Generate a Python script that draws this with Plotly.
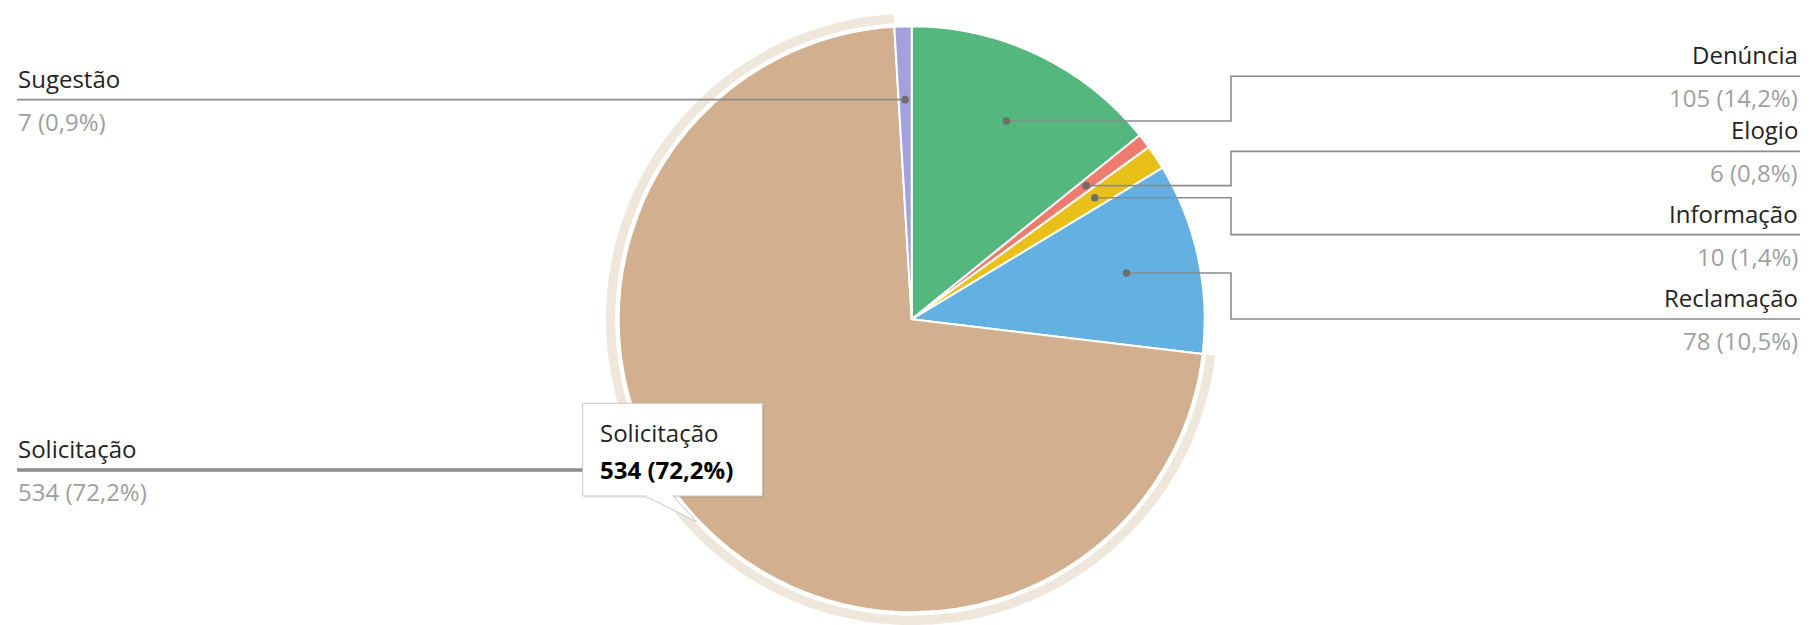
import math
import plotly.graph_objects as go

# ---------------- data ----------------
categories = ["Denúncia", "Elogio", "Informação", "Reclamação", "Solicitação", "Sugestão"]
counts = [105, 6, 10, 78, 534, 7]
colors = ["#54B77E", "#ED7B6E", "#E9C01A", "#63B0E2", "#D2B08F", "#A3A0DC"]
highlighted = "Solicitação"

# ---------------- layout constants (pixels) ----------------
W, H = 1812, 625
CX, CY = 911.7, 319.3          # pie centre
R = 293.0                      # pie radius
R_GAP = 296.5                  # white gap ring radius
R_HALO = 305.7                 # highlight halo radius
DOT_FRAC = 0.75                # leader dot position (fraction of radius)
ELBOW_X = 1231.0
RIGHT_X = 1800.0
LEFT_X = 17.0
right_label_line_y = {"Denúncia": 76.3, "Elogio": 151.4, "Informação": 234.6, "Reclamação": 319.0}
FONT = "Segoe UI, Open Sans, sans-serif"
FS = 24
NAME_COLOR = "#252423"
VALUE_COLOR = "#A0A0A0"
LINE_COLOR = "#8C8C8C"


def px(x):
    return x / W


def py(y):
    return 1 - y / H


def domain_for(r):
    return dict(x=[px(CX - r), px(CX + r)], y=[py(CY + r), py(CY - r)])


total = sum(counts)
pcts = [c / total * 100 for c in counts]


def fmt_pct(p):
    return f"{p:.1f}".replace(".", ",") + "%"


fig = go.Figure()

# halo (only highlighted slice visible)
fig.add_trace(go.Pie(
    labels=categories, values=counts, sort=False, direction="clockwise", rotation=0,
    marker=dict(colors=["#EFE6DC" if c == highlighted else "rgba(0,0,0,0)" for c in categories],
                line=dict(width=0)),
    textinfo="none", hoverinfo="skip", showlegend=False, domain=domain_for(R_HALO),
))
# white gap ring
fig.add_trace(go.Pie(
    labels=categories, values=counts, sort=False, direction="clockwise", rotation=0,
    marker=dict(colors=["#FFFFFF" if c == highlighted else "rgba(0,0,0,0)" for c in categories],
                line=dict(width=0)),
    textinfo="none", hoverinfo="skip", showlegend=False, domain=domain_for(R_GAP),
))
# main pie
fig.add_trace(go.Pie(
    labels=categories, values=counts, sort=False, direction="clockwise", rotation=0,
    marker=dict(colors=colors, line=dict(color="#FFFFFF", width=2)),
    textinfo="none", hoverinfo="skip", showlegend=False, domain=domain_for(R),
))

shapes = []
annotations = []

cum = 0
for cat, cnt, pct in zip(categories, counts, pcts):
    mid = (cum + cnt / 2) / total * 2 * math.pi
    cum += cnt
    dx = CX + DOT_FRAC * R * math.sin(mid)
    dy = CY - DOT_FRAC * R * math.cos(mid)
    value_txt = f"{cnt} ({fmt_pct(pct)})"
    if cat in right_label_line_y:
        ly = right_label_line_y[cat]
        path = (f"M {px(dx)},{py(dy)} L {px(ELBOW_X)},{py(dy)} "
                f"L {px(ELBOW_X)},{py(ly)} L {px(RIGHT_X)},{py(ly)}")
        shapes.append(dict(type="path", xref="paper", yref="paper", path=path,
                           line=dict(color=LINE_COLOR, width=1.6)))
        tx, xa = RIGHT_X, "right"
    else:
        ly = dy
        width = 3.5 if cat == highlighted else 1.6
        shapes.append(dict(type="line", xref="paper", yref="paper",
                           x0=px(dx), y0=py(dy), x1=px(LEFT_X), y1=py(dy),
                           line=dict(color=LINE_COLOR, width=width)))
        tx, xa = LEFT_X - 1.5, "left"
    shapes.append(dict(type="circle", xref="paper", yref="paper",
                       x0=px(dx - 3.8), x1=px(dx + 3.8), y0=py(dy - 3.8), y1=py(dy + 3.8),
                       fillcolor="#6E6E6E", line=dict(width=0)))
    annotations.append(dict(xref="paper", yref="paper", x=px(tx), y=py(ly - 21.5),
                            xanchor=xa, yanchor="middle", showarrow=False, text=cat,
                            font=dict(family=FONT, size=FS, color=NAME_COLOR)))
    annotations.append(dict(xref="paper", yref="paper", x=px(tx), y=py(ly + 21.5),
                            xanchor=xa, yanchor="middle", showarrow=False, text=value_txt,
                            font=dict(family=FONT, size=FS, color=VALUE_COLOR)))

# tooltip for the highlighted slice
hi = categories.index(highlighted)
TX0, TX1, TY0, TY1 = 582.7, 762.3, 403.3, 496.0
PTR = [(645.0, TY1), (696.7, 521.7), (673.0, TY1)]
# shadow
shapes.append(dict(type="rect", xref="paper", yref="paper",
                   x0=px(TX0 + 1), x1=px(TX1 + 2), y0=py(TY0 + 1), y1=py(TY1 + 2),
                   fillcolor="rgba(0,0,0,0.07)", line=dict(width=0)))
shapes.append(dict(type="rect", xref="paper", yref="paper",
                   x0=px(TX0), x1=px(TX1), y0=py(TY0), y1=py(TY1),
                   fillcolor="#FFFFFF", line=dict(color="#C8C8C8", width=1)))
ptr_path = "M " + " L ".join(f"{px(x)},{py(y)}" for x, y in PTR)
shapes.append(dict(type="path", xref="paper", yref="paper", path=ptr_path,
                   fillcolor="#FFFFFF", line=dict(color="#C8C8C8", width=1)))
shapes.append(dict(type="line", xref="paper", yref="paper",
                   x0=px(PTR[0][0] + 1.2), x1=px(PTR[2][0] - 1.2), y0=py(TY1 - 0.3), y1=py(TY1 - 0.3),
                   line=dict(color="#FFFFFF", width=2)))
annotations.append(dict(xref="paper", yref="paper", x=px(598.0), y=py(432.0),
                        xanchor="left", yanchor="middle", showarrow=False, text=highlighted,
                        font=dict(family=FONT, size=FS, color="#252423")))
annotations.append(dict(xref="paper", yref="paper", x=px(598.0), y=py(469.0),
                        xanchor="left", yanchor="middle", showarrow=False,
                        text=f"<b>{counts[hi]} ({fmt_pct(pcts[hi])})</b>",
                        font=dict(family=FONT, size=FS, color="#000000")))

fig.update_layout(
    width=W, height=H, margin=dict(l=0, r=0, t=0, b=0),
    paper_bgcolor="#FFFFFF", plot_bgcolor="#FFFFFF",
    showlegend=False, shapes=shapes, annotations=annotations,
)

fig.write_html("out.html", config={"displayModeBar": False})
